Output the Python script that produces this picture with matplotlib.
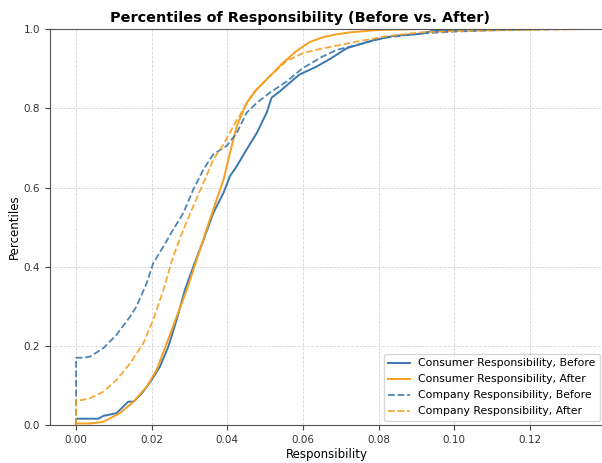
import matplotlib
matplotlib.use("Agg")
import matplotlib.pyplot as plt

# DATA ########################################################################
# percentile curves (responsibility value, percentile)

consumer_before_x = [0.0, 0.0, 0.0059, 0.0072, 0.0107, 0.0138, 0.0152, 0.0174, 0.0200,
                     0.0222, 0.0244, 0.0266, 0.0288, 0.0310, 0.0337, 0.0363, 0.0390,
                     0.0407, 0.0425, 0.0451, 0.0478, 0.0504, 0.0517, 0.0540, 0.0590,
                     0.0635, 0.0672, 0.0716, 0.0786, 0.0839, 0.0910, 0.0940, 0.1000,
                     0.1050]
consumer_before_y = [0.0, 0.016, 0.016, 0.023, 0.030, 0.059, 0.059, 0.080, 0.114,
                     0.148, 0.198, 0.266, 0.342, 0.400, 0.468, 0.536, 0.587,
                     0.629, 0.654, 0.696, 0.738, 0.789, 0.827, 0.844, 0.885,
                     0.905, 0.925, 0.952, 0.972, 0.983, 0.988, 0.995, 0.998,
                     1.0]

consumer_after_x = [0.0, 0.0, 0.0037, 0.0072, 0.0116, 0.0152, 0.0187, 0.0213, 0.0240,
                    0.0266, 0.0293, 0.0319, 0.0345, 0.0372, 0.0390, 0.0407, 0.0425,
                    0.0451, 0.0478, 0.0513, 0.0548, 0.0583, 0.0619, 0.0654, 0.0689,
                    0.0725, 0.0800, 0.0900]
consumer_after_y = [0.0, 0.004, 0.004, 0.008, 0.030, 0.059, 0.097, 0.139, 0.207,
                    0.274, 0.342, 0.418, 0.494, 0.570, 0.620, 0.688, 0.755,
                    0.814, 0.848, 0.882, 0.916, 0.945, 0.968, 0.980, 0.987,
                    0.992, 0.998, 1.0]

company_before_x = [0.0, 0.0, 0.0020, 0.0037, 0.0072, 0.0107, 0.0143, 0.0160, 0.0187,
                    0.0204, 0.0231, 0.0257, 0.0284, 0.0310, 0.0337, 0.0363, 0.0398,
                    0.0425, 0.0451, 0.0478, 0.0513, 0.0557, 0.0597, 0.0650, 0.0690,
                    0.0742, 0.0813, 0.0910, 0.1000, 0.1100, 0.1240]
company_before_y = [0.0, 0.170, 0.170, 0.173, 0.194, 0.228, 0.274, 0.300, 0.359,
                    0.409, 0.451, 0.494, 0.536, 0.595, 0.646, 0.684, 0.705,
                    0.738, 0.789, 0.814, 0.840, 0.868, 0.900, 0.930, 0.948,
                    0.960, 0.978, 0.989, 0.994, 0.997, 1.0]

company_after_x = [0.0, 0.0, 0.0015, 0.0037, 0.0072, 0.0107, 0.0143, 0.0178, 0.0204,
                   0.0231, 0.0257, 0.0284, 0.0310, 0.0337, 0.0363, 0.0390, 0.0416,
                   0.0442, 0.0469, 0.0513, 0.0557, 0.0601, 0.0645, 0.0698, 0.0750,
                   0.0813, 0.0910, 0.1000, 0.1100, 0.1200, 0.1330]
company_after_y = [0.0, 0.063, 0.063, 0.068, 0.084, 0.114, 0.156, 0.207, 0.266,
                   0.342, 0.426, 0.494, 0.553, 0.612, 0.671, 0.709, 0.755,
                   0.797, 0.840, 0.882, 0.920, 0.940, 0.950, 0.960, 0.970,
                   0.981, 0.992, 0.995, 0.997, 0.998, 1.0]

series_labels = ["Consumer Responsibility, Before", "Consumer Responsibility, After",
                 "Company Responsibility, Before", "Company Responsibility, After"]
x_ticks = [0.00, 0.02, 0.04, 0.06, 0.08, 0.10, 0.12]
y_ticks = [0.0, 0.2, 0.4, 0.6, 0.8, 1.0]

# PLOT ########################################################################

blue = "#3b78ae"
orange = "#f5a020"

fig = plt.figure(figsize=(6.02, 4.63), dpi=100)
ax = fig.add_axes([0.083, 0.082, 0.921, 0.855])

ax.plot(consumer_before_x, consumer_before_y, color=blue, lw=1.4, label=series_labels[0])
ax.plot(consumer_after_x, consumer_after_y, color=orange, lw=1.4, label=series_labels[1])
ax.plot(company_before_x, company_before_y, color=blue, lw=1.3, ls="--", alpha=0.9, label=series_labels[2])
ax.plot(company_after_x, company_after_y, color=orange, lw=1.3, ls="--", alpha=0.9, label=series_labels[3])

ax.set_xlim(-0.0069, 0.1397)
ax.set_ylim(0, 1.0)
ax.set_xticks(x_ticks)
ax.set_yticks(y_ticks)
ax.tick_params(labelsize=7.5, color="#444444", labelcolor="#333333")
ax.grid(True, ls="--", lw=0.6, color="#cccccc", alpha=0.8)
for s in ax.spines.values():
    s.set_color("#555555")

ax.set_title("Percentiles of Responsibility (Before vs. After)", fontsize=10.4,
             fontweight="bold", pad=5, x=0.451)
ax.set_xlabel("Responsibility", fontsize=8.5, labelpad=2)
ax.set_ylabel("Percentiles", fontsize=8.5, labelpad=2)
ax.legend(loc="lower right", fontsize=7.8, frameon=True, borderaxespad=0.4,
          handlelength=2.0, labelspacing=0.55)

# SAVE ########################################################################

plt.savefig("out.png", dpi=100)
